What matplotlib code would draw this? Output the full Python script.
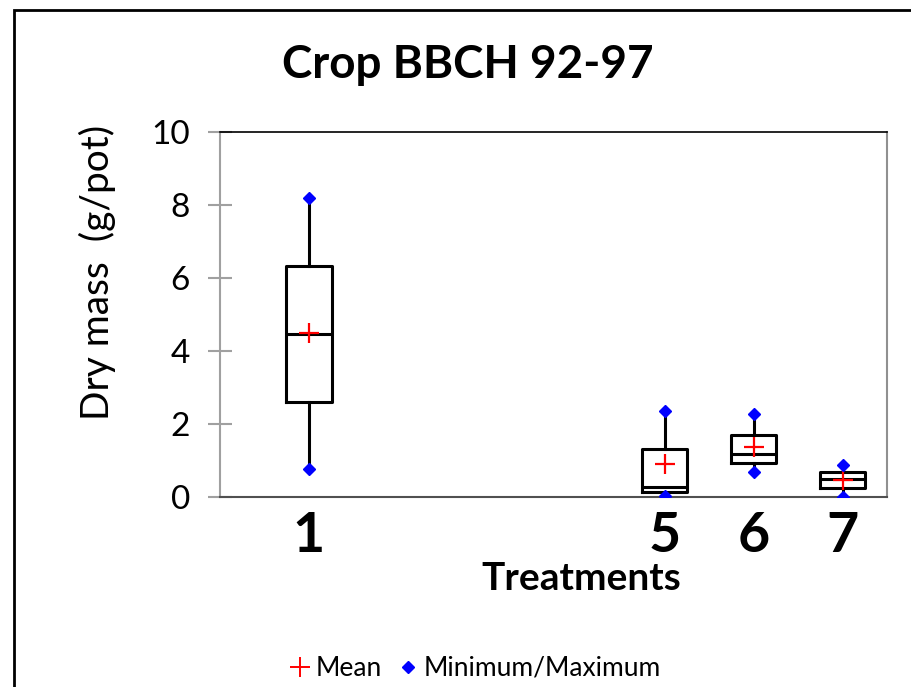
import matplotlib.pyplot as plt
from matplotlib.lines import Line2D
from matplotlib.patches import Rectangle

plt.rcParams['font.family'] = ['Lato', 'DejaVu Sans']

# treatment positions and box statistics (g/pot)
treatments = [1, 5, 6, 7]
q1 = [2.61, 0.15, 0.92, 0.24]
median = [4.47, 0.28, 1.19, 0.49]
q3 = [6.34, 1.31, 1.70, 0.68]
minimum = [0.76, 0.03, 0.68, 0.0]
maximum = [8.19, 2.36, 2.26, 0.88]
mean = [4.50, 0.89, 1.38, 0.47]

fig = plt.figure(figsize=(9.12, 6.87), dpi=100)
ax = fig.add_axes([0.2412, 0.2766, 0.7314, 0.5313])

stats = []
for i in range(len(treatments)):
    stats.append({'q1': q1[i], 'med': median[i], 'q3': q3[i],
                  'whislo': minimum[i], 'whishi': maximum[i], 'fliers': []})

ax.bxp(stats, positions=treatments, widths=0.51, showfliers=False, showcaps=False,
       boxprops=dict(color='black', linewidth=2.2),
       medianprops=dict(color='black', linewidth=2.2),
       whiskerprops=dict(color='black', linewidth=2.2),
       manage_ticks=False)

ax.plot(treatments, mean, '+', color='red', markersize=14, markeredgewidth=1.6, zorder=5)
ax.plot(treatments, minimum, 'D', color='blue', markersize=6, zorder=5)
ax.plot(treatments, maximum, 'D', color='blue', markersize=6, zorder=5)

ax.set_xlim(0, 7.5)
ax.set_ylim(0, 10)
ax.set_yticks([0, 2, 4, 6, 8, 10])
ax.set_xticks(treatments)
ax.set_xticklabels([str(t) for t in treatments], fontsize=40, fontweight='bold')
ax.tick_params(axis='x', length=0, pad=10)
ax.tick_params(axis='y', direction='inout', length=17, width=1.5, color='#a0a0a0',
               labelsize=24, pad=13)

ax.spines['left'].set_color('#a0a0a0')
ax.spines['left'].set_linewidth(1.5)
ax.spines['bottom'].set_color('#505050')
ax.spines['bottom'].set_linewidth(1.5)
ax.spines['right'].set_color('#909090')
ax.spines['right'].set_linewidth(1.5)
ax.spines['top'].set_color('black')
ax.spines['top'].set_linewidth(1.2)

ax.set_ylabel('Dry mass  (g/pot)', fontsize=28, va='center')
ax.yaxis.set_label_coords(-0.184, 0.616)
ax.set_xlabel('Treatments', fontsize=28, fontweight='bold', va='center')
ax.xaxis.set_label_coords(0.541, -0.222)

fig.text(0.513, 0.905, 'Crop BBCH 92-97', fontsize=33, fontweight='bold',
         ha='center', va='center')

handles = [Line2D([], [], marker='+', color='red', linestyle='none', markersize=15,
                  markeredgewidth=1.4),
           Line2D([], [], marker='D', color='blue', linestyle='none', markersize=6)]
fig.legend(handles, ['Mean', 'Minimum/Maximum'], loc='center', bbox_to_anchor=(0.518, 0.027),
           ncol=2, frameon=False, fontsize=19, handletextpad=0.0, columnspacing=0.4,
           handlelength=1.2)

fig.add_artist(Rectangle((0.0155, -0.1), 1.1, 1.085, transform=fig.transFigure,
                         fill=False, edgecolor='black', linewidth=2))

fig.savefig('out.png', dpi=100)
